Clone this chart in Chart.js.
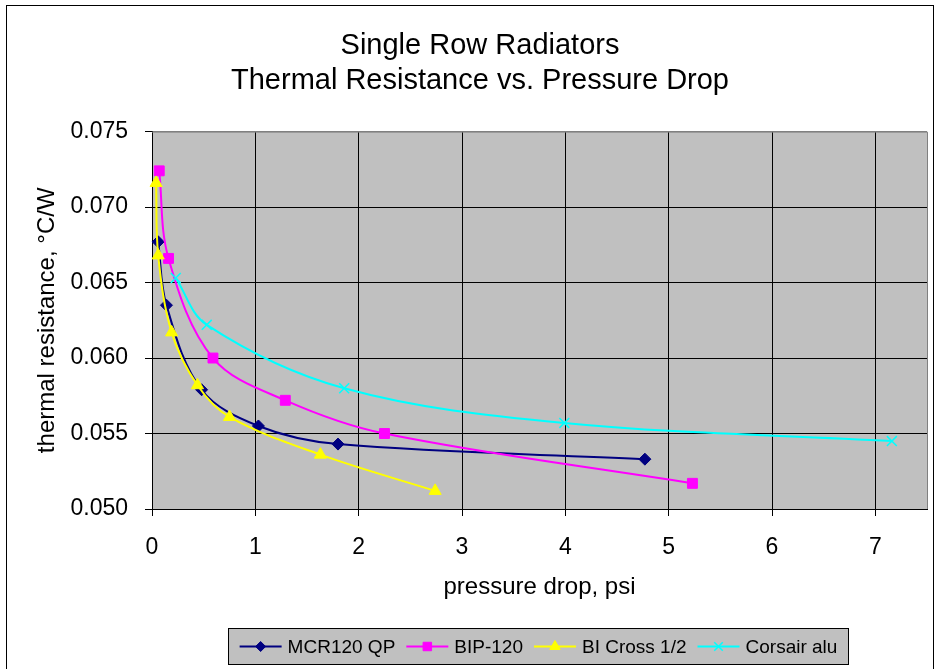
<!DOCTYPE html>
<html>
<head>
<meta charset="utf-8">
<script src="https://cdn.jsdelivr.net/npm/chart.js@4.4.0/dist/chart.umd.min.js"></script>
<style>
  html, body { margin: 0; padding: 0; background: #fff; }
  #wrap { width: 941px; height: 669px; position: relative; }
</style>
</head>
<body>
<div id="wrap"><canvas id="radChart"></canvas></div>
<script>
// values
const seriesNames = ["MCR120 QP", "BIP-120", "BI Cross 1/2", "Corsair alu"];
const mcrX = [0.06, 0.14, 0.48, 1.03, 1.80, 4.77];
const mcrY = [0.0677, 0.0635, 0.0579, 0.0555, 0.0543, 0.0533];
const bipX = [0.07, 0.16, 0.59, 1.29, 2.25, 5.23];
const bipY = [0.0724, 0.0666, 0.0600, 0.0572, 0.0550, 0.0517];
const crossX = [0.04, 0.06, 0.19, 0.44, 0.75, 1.63, 2.74];
const crossY = [0.0716, 0.0668, 0.0617, 0.0582, 0.0561, 0.0536, 0.0512];
const corsairX = [0.23, 0.53, 1.86, 3.99, 7.16];
const corsairY = [0.0653, 0.0622, 0.0580, 0.0557, 0.0545];
const xTicks = [0, 1, 2, 3, 4, 5, 6, 7];
const yTicks = [0.050, 0.055, 0.060, 0.065, 0.070, 0.075];

const FONT = "'Liberation Sans', Arial, sans-serif";
Chart.defaults.font.family = FONT;
Chart.defaults.color = "#000";

const toPoints = (xs, ys) => xs.map((x, i) => ({ x: x, y: ys[i] }));

function series(label, xs, ys, color, style, radius, order) {
    return {
        label: label,
        data: toPoints(xs, ys),
        borderColor: color,
        backgroundColor: color,
        borderWidth: 2,
        pointStyle: style,
        pointRadius: radius,
        pointBorderWidth: style === "crossRot" ? 1.5 : 1,
        pointBackgroundColor: color,
        pointBorderColor: color,
        tension: 0.35,
        clip: false,
        order: order
    };
}

// white page, outer frame, grey plot area
const framePlugin = {
    id: "frame",
    beforeDraw(chart) {
        const ctx = chart.ctx;
        const a = chart.chartArea;
        ctx.save();
        ctx.fillStyle = "#fff";
        ctx.fillRect(0, 0, chart.width, chart.height);
        ctx.strokeStyle = "#000";
        ctx.lineWidth = 1;
        ctx.strokeRect(6.5, 5.5, 927, 720);
        ctx.fillStyle = "#c0c0c0";
        ctx.fillRect(a.left, a.top, a.right - a.left, a.bottom - a.top);
        ctx.restore();
    },
    beforeDatasetsDraw(chart) {
        const ctx = chart.ctx;
        const a = chart.chartArea;
        ctx.save();
        ctx.strokeStyle = "#808080";
        ctx.lineWidth = 1;
        ctx.beginPath();
        ctx.moveTo(a.left, a.top + 0.5);
        ctx.lineTo(a.right + 0.5, a.top + 0.5);
        ctx.lineTo(a.right + 0.5, a.bottom);
        ctx.stroke();
        ctx.restore();
    }
};

// Excel-style legend box: line sample with marker, then the name
const legendPlugin = {
    id: "boxLegend",
    afterDraw(chart) {
        const ctx = chart.ctx;
        const box = { x: 228.5, y: 628.5, w: 620, h: 36 };
        ctx.save();
        ctx.fillStyle = "#c0c0c0";
        ctx.fillRect(box.x, box.y, box.w, box.h);
        ctx.strokeStyle = "#000";
        ctx.lineWidth = 1;
        ctx.strokeRect(box.x, box.y, box.w, box.h);

        ctx.font = "19px " + FONT;
        const sample = 42, gapText = 6, gapItem = 11;
        const sets = chart.data.datasets;
        let total = 0;
        sets.forEach((ds, i) => {
            total += sample + gapText + ctx.measureText(ds.label).width;
            if (i < sets.length - 1) total += gapItem;
        });
        let x = box.x + (box.w - total) / 2;
        const y = box.y + box.h / 2;
        sets.forEach(ds => {
            ctx.strokeStyle = ds.borderColor;
            ctx.fillStyle = ds.borderColor;
            ctx.lineWidth = 2;
            ctx.beginPath();
            ctx.moveTo(x, y);
            ctx.lineTo(x + sample, y);
            ctx.stroke();
            ctx.lineWidth = ds.pointBorderWidth;
            Chart.helpers.drawPoint(ctx, {
                pointStyle: ds.pointStyle,
                radius: ds.pointRadius - 1,
                borderWidth: ds.pointBorderWidth,
                rotation: 0
            }, x + sample / 2, y);
            ctx.fillStyle = "#000";
            ctx.textAlign = "left";
            ctx.textBaseline = "middle";
            ctx.fillText(ds.label, x + sample + gapText, y + 1);
            x += sample + gapText + ctx.measureText(ds.label).width + gapItem;
        });
        ctx.restore();
    }
};

new Chart(document.getElementById("radChart"), {
    type: "line",
    data: {
        datasets: [
            series(seriesNames[0], mcrX, mcrY, "#000080", "rectRot", 6, 4),
            series(seriesNames[1], bipX, bipY, "#ff00ff", "rect", 7, 3),
            series(seriesNames[2], crossX, crossY, "#ffff00", "triangle", 7, 2),
            series(seriesNames[3], corsairX, corsairY, "#00ffff", "crossRot", 7, 1)
        ]
    },
    options: {
        responsive: true,
        maintainAspectRatio: false,
        animation: false,
        layout: { padding: { top: 29, right: 14, bottom: 49, left: 33 } },
        scales: {
            x: {
                type: "linear",
                min: 0,
                max: 7.5,
                afterBuildTicks: scale => { scale.ticks = xTicks.map(v => ({ value: v })); },
                afterFit: scale => { scale.height = 111; },
                ticks: { font: { size: 23 }, padding: 18, color: "#000" },
                grid: { color: "#000", lineWidth: 1, tickLength: 7, tickColor: "#000" },
                border: { color: "#000", width: 1 },
                title: {
                    display: true,
                    text: "pressure drop, psi",
                    font: { size: 24 },
                    padding: { top: 0, bottom: 18 },
                    color: "#000"
                }
            },
            y: {
                type: "linear",
                min: 0.05,
                max: 0.075,
                afterBuildTicks: scale => { scale.ticks = yTicks.map(v => ({ value: v })); },
                afterFit: scale => { scale.width = 119; },
                ticks: {
                    font: { size: 23 },
                    padding: 17,
                    color: "#000",
                    callback: v => Number(v).toFixed(3)
                },
                grid: {
                    color: c => (c.tick && c.tick.value > 0.0749) ? "#808080" : "#000",
                    lineWidth: 1,
                    tickLength: 7,
                    tickColor: "#000"
                },
                border: { color: "#000", width: 1 },
                title: {
                    display: true,
                    text: "thermal resistance, °C/W",
                    font: { size: 24 },
                    padding: { top: 0, bottom: 0 },
                    color: "#000"
                }
            }
        },
        plugins: {
            legend: { display: false },
            tooltip: { enabled: false },
            title: {
                display: true,
                text: ["Single Row Radiators", "Thermal Resistance vs. Pressure Drop"],
                font: { size: 29, weight: "normal", lineHeight: 1.2 },
                color: "#000",
                padding: { top: 0, bottom: 33 }
            }
        }
    },
    plugins: [framePlugin, legendPlugin]
});
</script>
</body>
</html>
